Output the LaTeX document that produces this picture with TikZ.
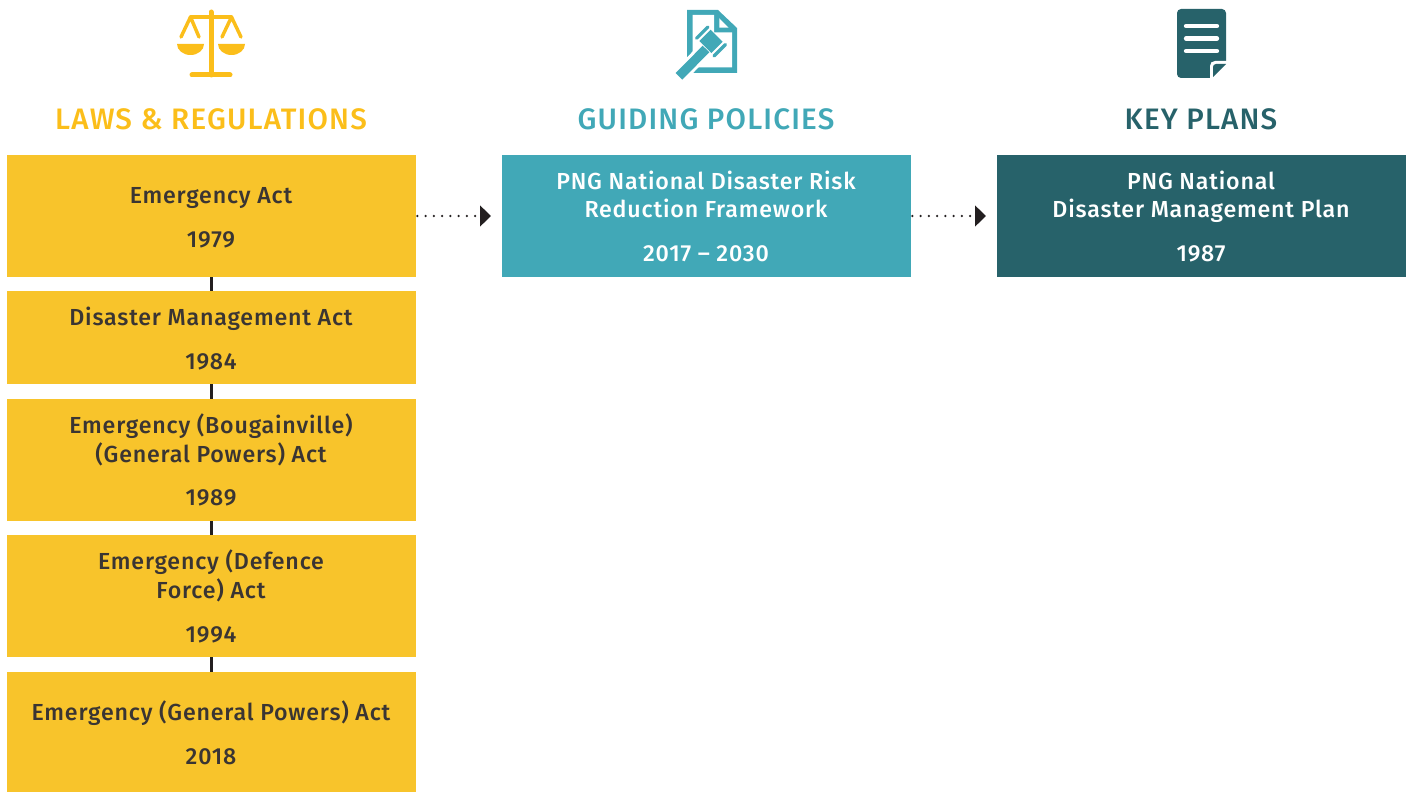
\documentclass[tikz,border=0pt]{standalone}
\usepackage{fontspec}
\setmainfont{Fira Sans Medium}[LetterSpace=3.5]
\newfontfamily\headfont{Fira Sans Medium}[LetterSpace=4.0]
\usetikzlibrary{arrows.meta}
\definecolor{yel}{HTML}{F8C42B}
\definecolor{yelh}{HTML}{FBBE1A}
\definecolor{blu}{HTML}{41A8B7}
\definecolor{drk}{HTML}{27626A}
\definecolor{txt}{HTML}{3A3533}
\definecolor{tip}{HTML}{231F20}
\tikzset{
  x=0.75pt,y=-0.75pt,
  box/.style={minimum width=306.75pt,inner sep=0pt,outer sep=0pt,anchor=north west},
  law/.style={box,fill=yel},
  pol/.style={box,fill=blu},
  pln/.style={box,fill=drk},
  head/.style={anchor=base,inner sep=0pt,font=\headfont\fontsize{22.2}{26}\selectfont},
  t/.style={inner sep=0pt,anchor=base,font=\fontsize{17.4}{21.6}\selectfont},
  link/.style={draw=tip,line width=1.8pt},
  flow/.style={draw=tip,line width=1.9pt,line cap=round,dash pattern=on 0pt off 6.2pt,shorten <=1pt,shorten >=8.25pt,-{Triangle[length=8.25pt,width=15.5pt,fill=tip]}},
  ic/.style={line cap=round,line join=round},
}
\begin{document}
\begin{tikzpicture}
\useasboundingbox (0,0) rectangle (1413,792);
% boxes
\node[law,minimum height=91.5pt] (l1) at (7,155) {};
\node[law,minimum height=69.75pt] (l2) at (7,291) {};
\node[law,minimum height=91.5pt] (l3) at (7,399) {};
\node[law,minimum height=91.5pt] (l4) at (7,535) {};
\node[law,minimum height=90pt] (l5) at (7,672) {};
\node[pol,minimum height=91.5pt] (p1) at (502,155) {};
\node[pln,minimum height=91.5pt] (k1) at (997,155) {};
% connectors
\draw[link] (l1) -- (l2);
\draw[link] (l2) -- (l3);
\draw[link] (l3) -- (l4);
\draw[link] (l4) -- (l5);
\draw[flow] (l1.east) -- (p1.west);
\draw[flow] (p1.east) -- (k1.west);
% headings
\node[head,text=yelh] (h1) at (211,129) {LAWS \& REGULATIONS};
\node[head,text=blu] (h2) at (706,129) {GUIDING POLICIES};
\node[head,text=drk] (h3) at (1201,129) {KEY PLANS};
% texts
\node[t,text=txt] (a1) at (211,203) {Emergency Act};
\node[t,text=txt] (a2) at (211,247) {1979};
\node[t,text=txt] (b1) at (211,325) {Disaster Management Act};
\node[t,text=txt] (b2) at (211,369) {1984};
\node[t,text=txt] (c1) at (211,433) {Emergency (Bougainville)};
\node[t,text=txt] (c2) at (211,462) {(General Powers) Act};
\node[t,text=txt] (c3) at (211,505) {1989};
\node[t,text=txt] (d1) at (211,569) {Emergency (Defence};
\node[t,text=txt] (d2) at (211,598) {Force) Act};
\node[t,text=txt] (d3) at (211,642) {1994};
\node[t,text=txt] (e1) at (211,720) {Emergency (General Powers) Act};
\node[t,text=txt] (e2) at (211,764) {2018};
\node[t,text=white] (f1) at (706,189) {PNG National Disaster Risk};
\node[t,text=white] (f2) at (706,217) {Reduction Framework};
\node[t,text=white] (f3) at (706,261) {2017 – 2030};
\node[t,text=white] (g1) at (1201,189) {PNG National};
\node[t,text=white] (g2) at (1201,217) {Disaster Management Plan};
\node[t,text=white] (g3) at (1201,261) {1987};
% scales icon
\begin{scope}[ic]
\draw[yelh,line width=3.75pt] (211,12) -- (211,75);
\draw[yelh,line width=3.75pt] (192,75) -- (230,75);
\draw[yelh,line width=3.2pt] (191,17) -- (231,17);
\draw[yelh,line width=2.6pt] (181,37) -- (190.5,17) -- (199,37);
\draw[yelh,line width=2.6pt] (222,37) -- (231.5,17) -- (241,37);
\fill[yelh] (177,44) -- (204,44) arc[start angle=0,end angle=180,x radius=13.5,y radius=11] -- cycle;
\fill[yelh] (218,44) -- (245,44) arc[start angle=0,end angle=180,x radius=13.5,y radius=11] -- cycle;
\end{scope}
% document with gavel icon
\fill[blu] (687,10) -- (718,10) -- (737,28) -- (737,73) -- (687,73) -- cycle;
\fill[white] (692.5,15) -- (714,15) -- (714,32.5) -- (732,32.5) -- (732,67.5) -- (692.5,67.5) -- cycle;
\fill[white] (719.3,18.3) -- (728.5,27.7) -- (719.3,27.7) -- cycle;
\draw[white,line width=11.5pt] (672,83.3) -- (706,49);
\draw[blu,line width=7pt] (679,76.3) -- (706,49);
\fill[blu] (699.3,41.06) -- (710.66,29.74) -- (722.66,41.74) -- (711.3,53.06) -- cycle;
\draw[blu,line width=2.4pt,line cap=round] (696.5,38.3) -- (707.9,27);
\draw[blu,line width=2.4pt,line cap=round] (714.1,55.9) -- (725.5,44.5);
% plan icon
\fill[drk,rounded corners=3] (1177,9) rectangle (1226,78);
\draw[white,line width=3.2pt,line cap=round] (1186,26) -- (1217,26);
\draw[white,line width=3.2pt,line cap=round] (1186,38.5) -- (1217,38.5);
\draw[white,line width=3.2pt,line cap=round] (1186,51) -- (1217,51);
\fill[white] (1210,78.5) -- (1210,66) .. controls (1210,63) and (1212,61) .. (1215,61) -- (1227,61) -- (1227,78.5) -- cycle;
\fill[drk] (1213,77) -- (1213,67) .. controls (1213,65.5) and (1214,64) .. (1216,64) -- (1226,64) -- cycle;
\end{tikzpicture}
\end{document}
